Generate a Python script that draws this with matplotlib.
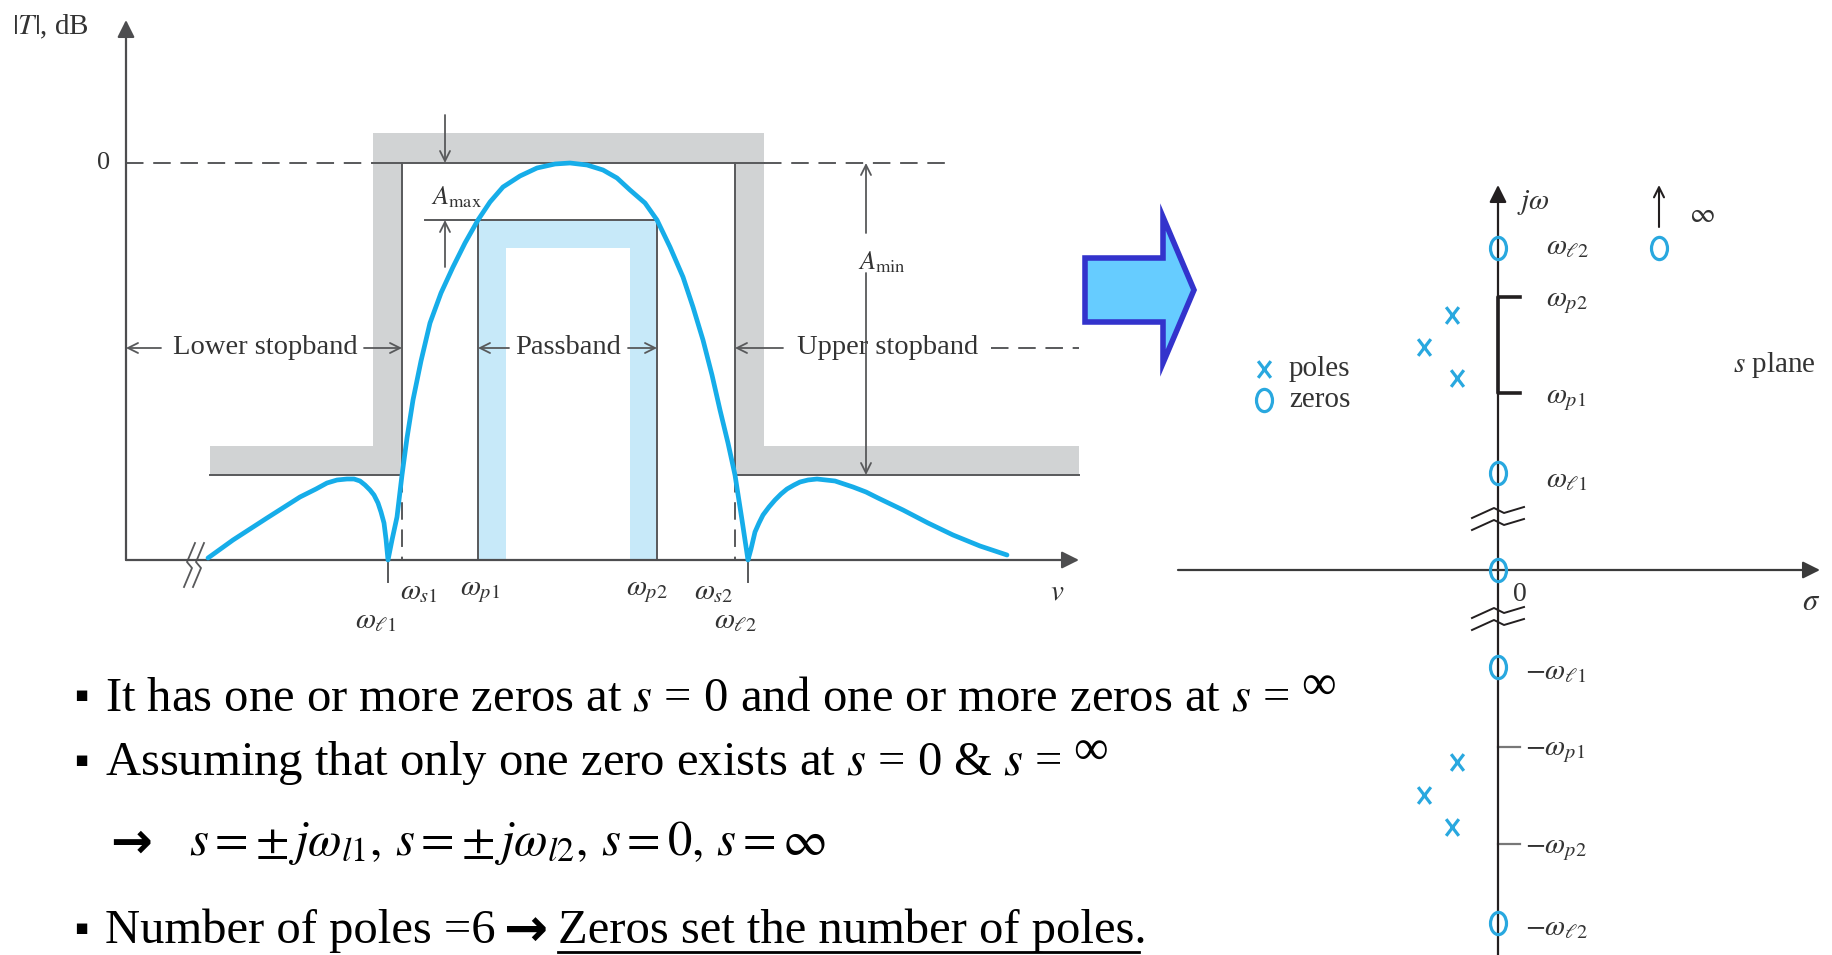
import matplotlib
matplotlib.use("Agg")
import matplotlib.pyplot as plt
from matplotlib.patches import Rectangle, FancyArrow
from matplotlib.path import Path
from matplotlib.transforms import Affine2D

plt.rcParams['font.family'] = ['Liberation Serif', 'DejaVu Serif']
plt.rcParams['mathtext.fontset'] = 'stix'

# ---------------- bandpass magnitude response (frequency, dB) ----------------
resp_freq = [0.82, 1.07, 1.41, 1.74, 1.90, 2.01, 2.11, 2.21, 2.28, 2.34, 2.39, 2.44,
             2.48, 2.52, 2.55, 2.58, 2.60, 2.62,
             2.66, 2.71, 2.76, 2.81, 2.87, 2.95, 3.04, 3.15, 3.27, 3.39, 3.52, 3.64,
             3.77, 3.94, 4.11, 4.29, 4.44, 4.61, 4.77, 4.91, 5.04, 5.19, 5.31, 5.44,
             5.57, 5.67, 5.77, 5.86, 5.94, 6.02, 6.09, 6.16, 6.22,
             6.25, 6.29, 6.33, 6.37, 6.43, 6.49, 6.55, 6.61, 6.68, 6.74, 6.82, 6.91,
             7.00, 7.09, 7.18, 7.27, 7.40, 7.52, 7.77, 8.02, 8.27, 8.54, 8.81]
resp_db = [-39.5, -37.7, -35.5, -33.4, -32.6, -32.0, -31.7, -31.6, -31.6, -31.8, -32.2, -32.7,
           -33.2, -34.0, -34.9, -36.0, -37.6, -39.7,
           -37.7, -35.4, -31.2, -27.5, -23.7, -19.8, -16.0, -13.0, -10.4, -8.0, -5.7, -3.9,
           -2.4, -1.3, -0.5, -0.1, 0.0, -0.2, -0.7, -1.5, -2.7, -4.0, -5.7, -8.4,
           -11.4, -14.4, -17.7, -21.2, -24.7, -28.0, -31.2, -35.7, -39.7,
           -38.6, -36.9, -36.0, -35.2, -34.4, -33.7, -33.1, -32.6, -32.2, -31.9, -31.7, -31.6,
           -31.7, -31.8, -32.1, -32.4, -32.9, -33.5, -34.7, -36.0, -37.2, -38.3, -39.2]

# band edges (frequency) and attenuation levels (dB)
W_L1, W_S1, W_P1, W_P2, W_S2, W_L2 = 2.62, 2.76, 3.52, 5.31, 6.09, 6.22
A_MAX, A_MIN, FLOOR = -5.7, -31.2, -39.7
freq_labels = [r'$\omega_{s1}$', r'$\omega_{p1}$', r'$\omega_{p2}$', r'$\omega_{s2}$']
null_labels = [r'$\omega_{\ell 1}$', r'$\omega_{\ell 2}$']

# ---------------- s-plane ----------------
zeros_sigma = [0.0, 0.0, 0.0, 0.0, 0.0]
zeros_jw = [3.22, 0.97, 0.0, -0.97, -3.53]
zero_inf = (1.61, 3.22)
poles_sigma = [-0.46, -0.74, -0.41, -0.41, -0.74, -0.46]
poles_jw = [2.55, 2.23, 1.92, -1.92, -2.25, -2.57]
wp_upper = [1.77, 2.73]
wp_lower = [-1.77, -2.74]
upper_labels = [(r'$\omega_{\ell 2}$', 3.23), (r'$\omega_{p2}$', 2.67),
                (r'$\omega_{p1}$', 1.70), (r'$\omega_{\ell 1}$', 0.90)]
lower_labels = [(r'$-\omega_{\ell 1}$', -1.02), (r'$-\omega_{p1}$', -1.82),
                (r'$-\omega_{p2}$', -2.80), (r'$-\omega_{\ell 2}$', -3.58)]

GRAY = '#d1d3d4'
LBLUE = '#c7e9f9'
LINE = '#58595b'
TXT = '#333333'
CURVE = '#16ade9'
MARK = '#29a8df'

fig = plt.figure(figsize=(18.32, 9.55), dpi=100)
fig.patch.set_facecolor('white')

axL = fig.add_axes([0, 0, 1, 1])
axL.set_xlim(-1.26, 17.06)
axL.set_ylim(-79.2, 16.3)
axS = fig.add_axes([0, 0, 1, 1])
axS.set_xlim(-14.98, 3.34)
axS.set_ylim(-3.85, 5.70)
axP = fig.add_axes([0, 0, 1, 1])
axP.set_xlim(0, 1832)
axP.set_ylim(955, 0)
for a in (axL, axS, axP):
    a.axis('off')
    a.patch.set_visible(False)


def arrow(ax, x0, y0, x1, y1, style='->', lw=1.3, ms=18, color=LINE, z=5):
    ax.annotate('', xy=(x1, y1), xytext=(x0, y0),
                arrowprops=dict(arrowstyle=style, lw=lw, color=color,
                                shrinkA=0, shrinkB=0, mutation_scale=ms), zorder=z)


# ---------- left: specification mask ----------
MW, MT = 0.29, 2.9
for (x, y, w, h) in [(0.84, A_MIN, W_S1 - 0.84, MT),
                     (W_S1 - MW, A_MIN + MT, MW, -A_MIN - MT + 3.0),
                     (W_S1 - MW, 0, W_S2 + MW - (W_S1 - MW), 3.0),
                     (W_S2, A_MIN + MT, MW, -A_MIN - MT),
                     (W_S2, A_MIN, 9.53 - W_S2, MT)]:
    axL.add_patch(Rectangle((x, y), w, h, fc=GRAY, ec='none', zorder=1))
axL.add_patch(Rectangle((W_P1, FLOOR), W_P2 - W_P1, A_MAX - FLOOR, fc=LBLUE, ec='none', zorder=1))
axL.add_patch(Rectangle((W_P1 + 0.28, FLOOR), W_P2 - W_P1 - 0.55, A_MAX - 2.8 - FLOOR,
                        fc='white', ec='none', zorder=1.5))

lk = dict(color=LINE, lw=1.4, zorder=3)
axL.plot([0.84, W_S1, W_S1], [A_MIN, A_MIN, 0], **lk)
axL.plot([W_S1 - MW, W_S2 + MW], [0, 0], **lk)
axL.plot([W_S2, W_S2, 9.53], [0, A_MIN, A_MIN], **lk)
axL.plot([W_P1, W_P1, W_P2, W_P2], [FLOOR, A_MAX, A_MAX, FLOOR], **lk)
axL.plot([2.99, W_P1], [A_MAX, A_MAX], **lk)
dk = dict(color=LINE, lw=1.4, ls=(0, (9, 5)), zorder=3)
axL.plot([0, W_S1 - MW], [0, 0], **dk)
axL.plot([W_S2 + MW, 8.22], [0, 0], **dk)
axL.plot([8.65, 9.53], [-18.5, -18.5], **dk)
axL.plot([W_S1, W_S1], [A_MIN, FLOOR], **dk)
axL.plot([W_S2, W_S2], [A_MIN, FLOOR], **dk)
for w in (W_L1, W_L2):
    axL.plot([w, w], [FLOOR, FLOOR - 2.2], **lk)

# axes with arrowheads
arrow(axL, 0, FLOOR, 9.53, FLOOR, style='-|>', lw=1.6, ms=26, color='#4d4d4f')
arrow(axL, 0, FLOOR, 0, 14.3, style='-|>', lw=1.6, ms=26, color='#4d4d4f')

# axis break marks
for dx in (0.0, 0.09):
    axL.plot([0.69 + dx, 0.61 + dx, 0.66 + dx, 0.58 + dx], [-38.0, -39.9, -40.5, -42.4],
             color=LINE, lw=1.3, zorder=4)

# response curve
axL.plot(resp_freq, resp_db, color=CURVE, lw=3.4, solid_joinstyle='round',
         solid_capstyle='round', zorder=6)

# dimension arrows
arrow(axL, 3.19, 4.8, 3.19, 0)
arrow(axL, 3.19, -10.4, 3.19, A_MAX)
arrow(axL, 7.40, -7.0, 7.40, 0)
arrow(axL, 7.40, -11.0, 7.40, A_MIN)
arrow(axL, 0.35, -18.5, 0, -18.5)
arrow(axL, 2.38, -18.5, W_S1, -18.5)
arrow(axL, 3.83, -18.5, W_P1, -18.5)
arrow(axL, 5.02, -18.5, W_P2, -18.5)
arrow(axL, 6.57, -18.5, W_S2, -18.5)

tk = dict(color=TXT, zorder=7)
axL.text(1.39, -18.5, 'Lower stopband', fontsize=20.5, ha='center', va='center', **tk)
axL.text(4.42, -18.5, 'Passband', fontsize=20.5, ha='center', va='center', **tk)
axL.text(6.71, -18.5, 'Upper stopband', fontsize=20.5, ha='left', va='center', **tk)
axL.text(3.05, -3.4, r'$A_{\mathrm{max}}$', fontsize=19, ha='left', va='center', **tk)
axL.text(7.32, -9.9, r'$A_{\mathrm{min}}$', fontsize=19, ha='left', va='center', **tk)
axL.text(-0.16, 0, '0', fontsize=19, ha='right', va='center', **tk)
axL.text(-1.14, 13.6, r'$|T|$, dB', fontsize=21, ha='left', va='center', **tk)
for lab, w, off in zip(freq_labels, [W_S1, W_P1, W_P2, W_S2], [0.17, 0.02, -0.10, -0.21]):
    axL.text(w + off, -42.9, lab, fontsize=21, ha='center', va='center', **tk)
for lab, w in zip(null_labels, [W_L1, W_L2]):
    axL.text(w - 0.12, -45.8, lab, fontsize=21, ha='center', va='center', **tk)
axL.text(9.31, -42.9, r'$v$', fontsize=21, ha='center', va='center', **tk)

# ---------- block arrow between the two diagrams ----------
axP.add_patch(FancyArrow(1085, 290, 109, 0, width=64, head_width=146, head_length=31,
                         length_includes_head=True, fc='#66ccff', ec='#3333cc', lw=4,
                         joinstyle='miter', zorder=5))

# ---------- right: s-plane ----------
AX = '#231f20'
arrow(axS, 0, -3.85, 0, 3.85, style='-|>', lw=1.6, ms=26, color=AX)
arrow(axS, -3.2, 0, 3.22, 0, style='-|>', lw=1.6, ms=26, color='#3a3a3a')
axS.plot([0.22, 0, 0, 0.22], [wp_upper[1], wp_upper[1], wp_upper[0], wp_upper[0]],
         color=AX, lw=2.6, zorder=4)
for y in wp_lower:
    axS.plot([0, 0.22], [y, y], color='#777777', lw=1.6, zorder=4)
for y0 in (0.52, -0.48):
    for dy in (0.0, -0.12):
        axS.plot([-0.26, -0.04, 0.06, 0.26], [y0 + dy, y0 + dy + 0.10, y0 + dy + 0.05, y0 + dy + 0.11],
                 color=AX, lw=1.4, zorder=4)
arrow(axS, zero_inf[0], 3.43, zero_inf[0], 3.85, lw=1.5, color=AX)

zero_marker = Path.unit_circle().transformed(Affine2D().scale(0.72, 1.0))
pole_marker = Path([(-0.38, -0.5), (0.38, 0.5), (-0.38, 0.5), (0.38, -0.5)],
                   [Path.MOVETO, Path.LINETO, Path.MOVETO, Path.LINETO])
zk = dict(ls='none', marker=zero_marker, ms=16, mfc='none', mec=MARK, mew=2.3, zorder=6)
pk = dict(ls='none', marker=pole_marker, ms=12, mec=MARK, mew=2.3, zorder=6)
axS.plot(zeros_sigma, zeros_jw, **zk)
axS.plot([zero_inf[0]], [zero_inf[1]], **zk)
axS.plot(poles_sigma, poles_jw, **pk)
axS.plot([-2.34], [2.01], **pk)
axS.plot([-2.34], [1.70], **zk)
axS.text(-2.09, 2.01, 'poles', fontsize=21, ha='left', va='center', color=TXT)
axS.text(-2.09, 1.70, 'zeros', fontsize=21, ha='left', va='center', color=TXT)
for lab, y in upper_labels:
    axS.text(0.48, y, lab, fontsize=21, ha='left', va='center', color=TXT)
for lab, y in lower_labels:
    axS.text(0.27, y, lab, fontsize=21, ha='left', va='center', color=TXT)
axS.text(0.19, 3.68, r'$j\omega$', fontsize=21, ha='left', va='center', color=TXT)
axS.text(2.04, 3.55, r'$\infty$', fontsize=20, ha='center', va='center', color=TXT)
axS.text(0.22, -0.24, '0', fontsize=20, ha='center', va='center', color=TXT)
axS.text(3.13, -0.32, r'$\sigma$', fontsize=22, ha='center', va='center', color=TXT)
axS.text(2.35, 2.05, r'$s$ plane', fontsize=21, ha='left', va='center', color=TXT)

# ---------- bullet text ----------
FS = 35
renderer = fig.canvas.get_renderer()
inv = axP.transData.inverted()


def right_edge(t):
    bb = t.get_window_extent(renderer)
    return inv.transform((bb.x1, bb.y0))[0]


def bullet(y):
    axP.text(81, y, '\u25aa', fontsize=15, family='DejaVu Sans', ha='center',
             va='center', color='black')


bullet(695)
t1 = axP.text(105, 710, 'It has one or more zeros at $s$ = 0 and one or more zeros at $s$ =',
              fontsize=FS, va='baseline', color='black')
axP.text(right_edge(t1) + 12, 699, '\u221e', fontsize=FS, va='baseline', color='black')

bullet(760)
t2 = axP.text(105, 775, 'Assuming that only one zero exists at $s$ = 0 & $s$ =',
              fontsize=FS, va='baseline', color='black')
axP.text(right_edge(t2) + 12, 764, '\u221e', fontsize=FS, va='baseline', color='black')

axP.text(110, 844, '\u2192', fontsize=36, family='DejaVu Sans', fontweight='bold',
         ha='left', va='center', color='black')
axP.text(189, 855, r'$s=\pm\, j\omega_{l1},\, s=\pm\, j\omega_{l2},\, s=0,\, s=\infty$',
         fontsize=FS, va='baseline', color='black')

bullet(928)
t4 = axP.text(105, 943, 'Number of poles =6', fontsize=FS, va='baseline', color='black')
xa = right_edge(t4) + 8
ta = axP.text(xa, 931, '\u2192', fontsize=38, family='DejaVu Sans', fontweight='bold',
              ha='left', va='center', color='black')
xz = right_edge(ta) + 10
t5 = axP.text(xz, 943, 'Zeros set the number of poles.', fontsize=FS, va='baseline',
              color='black')
axP.plot([xz, right_edge(t5) - 8], [952, 952], color='black', lw=2)

fig.savefig('out.png', dpi=100, facecolor='white')
